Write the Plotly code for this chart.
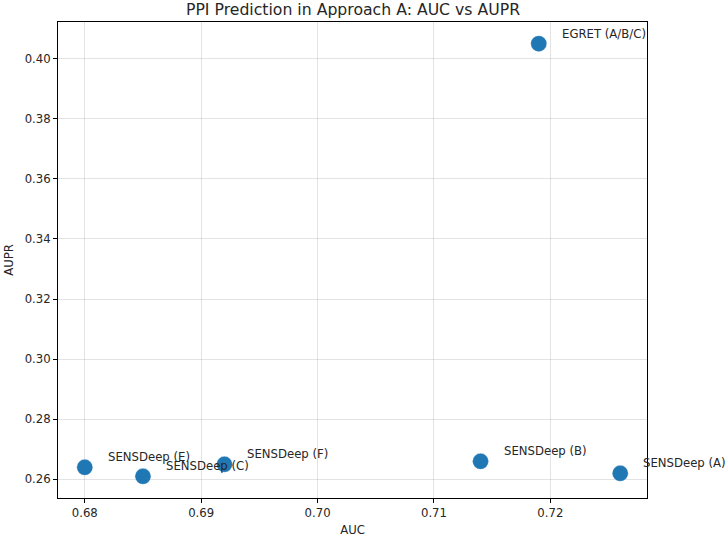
import plotly.graph_objects as go

methods = ["SENSDeep (A)", "SENSDeep (B)", "SENSDeep (C)", "SENSDeep (E)", "SENSDeep (F)", "EGRET (A/B/C)"]
auc = [0.726, 0.714, 0.685, 0.680, 0.692, 0.719]
aupr = [0.262, 0.266, 0.261, 0.264, 0.265, 0.405]

x_ticks = [0.68, 0.69, 0.70, 0.71, 0.72]
y_ticks = [0.26, 0.28, 0.30, 0.32, 0.34, 0.36, 0.38, 0.40]

font_family = "DejaVu Sans"
text_color = "#262626"

fig = go.Figure()
fig.add_trace(go.Scatter(
    x=auc, y=aupr, mode="markers",
    marker=dict(size=16, color="#1f77b4", line=dict(color="rgba(255,255,255,0.6)", width=0.5)),
    showlegend=False, cliponaxis=False,
))

for m, xv, yv in zip(methods, auc, aupr):
    fig.add_annotation(x=xv, y=yv, text=m, showarrow=False,
                       xanchor="left", yanchor="middle", xshift=21, yshift=10,
                       font=dict(family=font_family, size=11.7, color=text_color))

xr = (min(auc), max(auc))
yr = (min(aupr), max(aupr))
xm = (xr[1] - xr[0]) * 0.05
ym = (yr[1] - yr[0]) * 0.05

axis_common = dict(
    showline=True, linecolor="black", linewidth=1, mirror=True,
    ticks="outside", ticklen=4, tickcolor="black", tickwidth=1,
    showgrid=True, gridcolor="rgba(176,176,176,0.35)", gridwidth=1,
    zeroline=False, automargin=False,
    tickfont=dict(family=font_family, size=11.7, color=text_color),
)

fig.update_layout(
    width=728, height=537,
    margin=dict(l=58, r=81, t=22, b=39),
    paper_bgcolor="white", plot_bgcolor="white",
    title=dict(text="PPI Prediction in Approach A: AUC vs AUPR", x=0.4849, xanchor="center",
               y=1 - 10 / 537, yanchor="middle", yref="container",
               font=dict(family=font_family, size=15.7, color=text_color)),
    xaxis=dict(range=[xr[0] - xm, xr[1] + xm], tickvals=x_ticks,
               ticktext=[f"{v:.2f}" for v in x_ticks],
               title=dict(text="AUC", standoff=6, font=dict(family=font_family, size=11.7, color=text_color)),
               **axis_common),
    yaxis=dict(range=[yr[0] - ym, yr[1] + ym], tickvals=y_ticks,
               ticktext=[f"{v:.2f}" for v in y_ticks],
               title=dict(text="AUPR", standoff=8, font=dict(family=font_family, size=11.7, color=text_color)),
               **axis_common),
)

fig.write_html("out.html")
